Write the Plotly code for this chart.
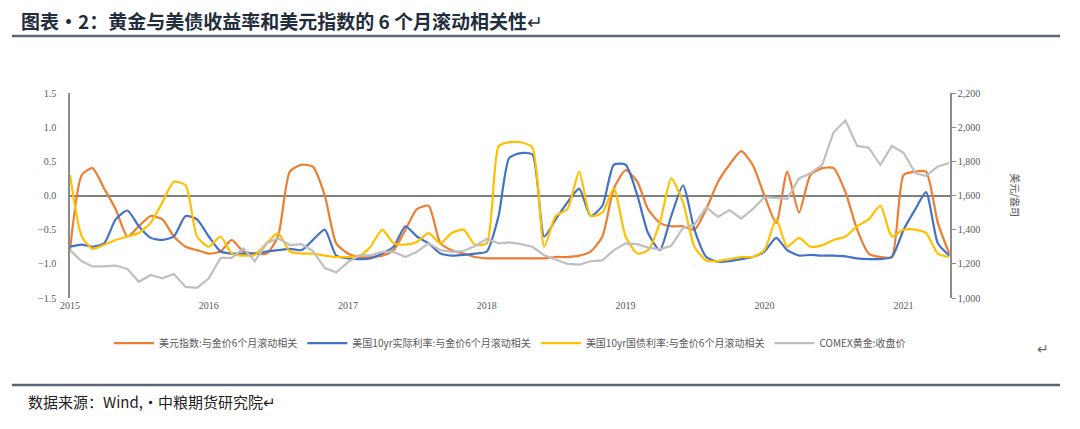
import plotly.graph_objects as go
import pandas as pd

dates = pd.date_range("2015-01-01", "2021-05-01", freq="MS")

usd_corr = [-0.8,0.3,0.4,0.1,-0.2,-0.6,-0.45,-0.3,-0.35,-0.6,-0.75,-0.8,
            -0.85,-0.82,-0.65,-0.82,-0.85,-0.85,-0.6,0.35,0.45,0.42,0.0,-0.7,
            -0.85,-0.9,-0.9,-0.88,-0.8,-0.5,-0.2,-0.15,-0.7,-0.8,-0.85,-0.9,
            -0.92,-0.92,-0.92,-0.92,-0.92,-0.92,-0.9,-0.9,-0.88,-0.82,-0.6,0.1,
            0.37,0.2,-0.2,-0.4,-0.45,-0.45,-0.5,-0.2,0.2,0.45,0.65,0.45,
            0.0,-0.4,0.35,-0.25,0.3,0.4,0.4,0.05,-0.5,-0.85,-0.9,-0.9,
            0.3,0.35,0.35,-0.4,-0.85]
real_corr = [-0.75,-0.72,-0.75,-0.7,-0.35,-0.22,-0.45,-0.62,-0.65,-0.6,-0.3,-0.35,
             -0.6,-0.82,-0.85,-0.85,-0.85,-0.82,-0.8,-0.78,-0.8,-0.65,-0.5,-0.88,
             -0.92,-0.93,-0.92,-0.85,-0.75,-0.45,-0.6,-0.7,-0.85,-0.88,-0.87,-0.85,
             -0.82,-0.3,0.55,0.62,0.6,-0.6,-0.35,-0.1,0.1,-0.3,-0.15,0.45,
             0.45,0.0,-0.55,-0.8,-0.3,0.15,-0.5,-0.9,-0.97,-0.96,-0.93,-0.9,
             -0.82,-0.62,-0.8,-0.88,-0.87,-0.88,-0.88,-0.89,-0.92,-0.93,-0.93,-0.9,
             -0.5,-0.2,0.05,-0.7,-0.88]
nominal_corr = [0.3,-0.6,-0.78,-0.72,-0.65,-0.6,-0.55,-0.4,-0.1,0.2,0.15,-0.6,
                -0.75,-0.6,-0.85,-0.88,-0.87,-0.7,-0.55,-0.82,-0.85,-0.85,-0.88,-0.9,
                -0.9,-0.88,-0.75,-0.5,-0.7,-0.72,-0.68,-0.55,-0.7,-0.55,-0.5,-0.72,
                -0.7,0.72,0.78,0.78,0.7,-0.75,-0.3,-0.2,0.35,-0.3,-0.25,0.1,
                -0.6,-0.85,-0.8,-0.4,0.25,-0.1,-0.75,-0.95,-0.96,-0.93,-0.9,-0.9,
                -0.8,-0.35,-0.75,-0.62,-0.75,-0.73,-0.65,-0.6,-0.45,-0.35,-0.15,-0.6,
                -0.5,-0.5,-0.55,-0.85,-0.9]
gold = [1280,1215,1185,1185,1190,1170,1095,1135,1115,1140,1065,1060,
        1115,1235,1235,1290,1215,1320,1350,1310,1315,1275,1175,1150,
        1210,1250,1250,1270,1270,1240,1270,1320,1280,1270,1275,1305,
        1345,1320,1325,1315,1300,1250,1225,1200,1195,1215,1220,1280,
        1320,1315,1295,1285,1305,1410,1430,1530,1475,1515,1465,1520,
        1590,1585,1580,1700,1730,1780,1970,2040,1890,1880,1780,1890,
        1850,1730,1715,1770,1790]

names = ["美元指数:与金价6个月滚动相关", "美国10yr实际利率:与金价6个月滚动相关",
         "美国10yr国债利率:与金价6个月滚动相关", "COMEX黄金:收盘价"]
colors = ["#ED7D31", "#4472C4", "#FFC000", "#BFBFBF"]

fig = go.Figure()
for n, c, s in zip(names[:3], colors[:3], [usd_corr, real_corr, nominal_corr]):
    fig.add_trace(go.Scatter(x=dates, y=s, name=n, mode="lines",
                             line=dict(color=c, width=2.2, shape="spline", smoothing=0.6)))
fig.add_trace(go.Scatter(x=dates, y=gold, name=names[3], mode="lines", yaxis="y2",
                         line=dict(color=colors[3], width=2.2)))

tickfont = dict(family="Liberation Serif, serif", size=10, color="#595959")
fig.update_layout(
    width=1080, height=429, paper_bgcolor="white", plot_bgcolor="white",
    margin=dict(l=62, r=138, t=85, b=139),
    font=dict(family="Noto Sans CJK SC"),
    xaxis=dict(type="date", range=["2015-01-01", "2021-05-03"], showgrid=False,
               tickvals=[f"{y}-01-01" for y in range(2015, 2022)],
               ticktext=[str(y) for y in range(2015, 2022)],
               tickfont=tickfont, showline=False, ticks=""),
    yaxis=dict(range=[-1.5, 1.5], dtick=0.5, tickformat=".1f", showgrid=False,
               zeroline=True, zerolinecolor="#7f7f7f", zerolinewidth=1.5,
               showline=True, linecolor="#8c8c8c", linewidth=1.5, tickfont=tickfont,
               ticks="", ticklabelstandoff=10),
    yaxis2=dict(range=[1000, 2200], dtick=200, overlaying="y", side="right",
                showgrid=False, showline=True, linecolor="#8c8c8c", linewidth=1.5,
                tickformat=",", ticks="outside", ticklen=4, tickcolor="#8c8c8c",
                tickfont=tickfont, zeroline=False),
    legend=dict(orientation="h", x=0.5, xanchor="center", y=-0.22, yanchor="middle",
                font=dict(size=10, color="#595959"), itemwidth=40),
    showlegend=True,
)
fig.add_annotation(xref="paper", yref="paper", x=1.085, y=0.5, text="美元/盎司",
                   textangle=90, showarrow=False, font=dict(size=10, color="#595959"))
fig.add_annotation(xref="paper", yref="paper", x=-0.058, y=1.0 + 73/205, xanchor="left",
                   yanchor="middle", text="<b>图表·2：黄金与美债收益率和美元指数的 6 个月滚动相关性</b>↵",
                   showarrow=False, font=dict(size=19, color="#1f2d3d"))
fig.add_annotation(xref="paper", yref="paper", x=-0.05, y=-(401-298)/205, xanchor="left",
                   yanchor="middle", text="数据来源：Wind,·中粮期货研究院↵",
                   showarrow=False, font=dict(size=15, color="#222"))
fig.add_annotation(xref="paper", yref="paper", x=1.115, y=-(360-298)/205,
                   text="↵", showarrow=False, font=dict(size=14, color="#666"))
fig.add_shape(type="line", xref="paper", yref="paper", x0=-0.066, x1=1.125,
              y0=1 + (93-36)/205, y1=1 + (93-36)/205, line=dict(color="#5a6678", width=2.5))
fig.add_shape(type="line", xref="paper", yref="paper", x0=-0.066, x1=1.125,
              y0=-(385-298)/205, y1=-(385-298)/205, line=dict(color="#5a6678", width=2.5))
fig.write_html("out.html")
